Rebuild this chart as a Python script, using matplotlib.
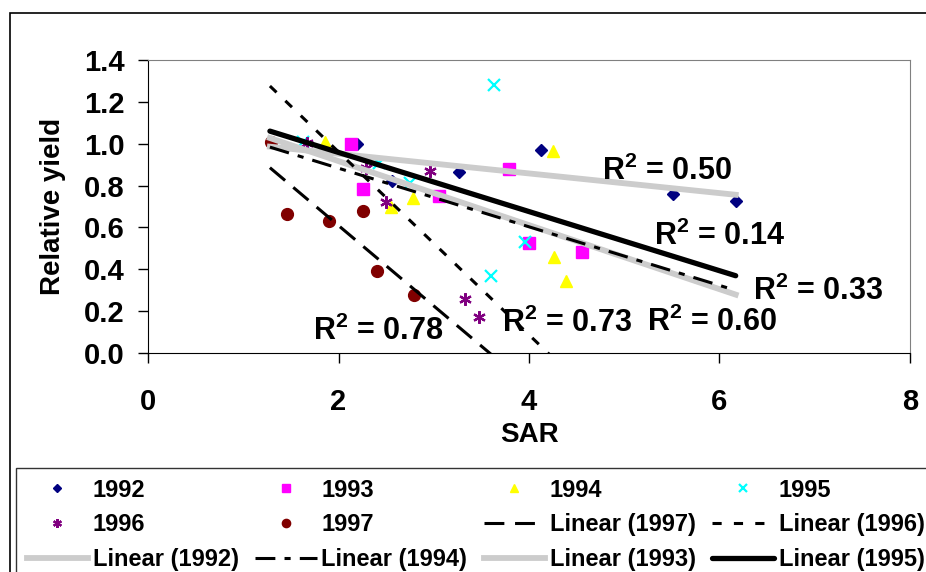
import numpy as np
import matplotlib
matplotlib.use('Agg')
import matplotlib.pyplot as plt
from matplotlib.patches import Rectangle

plt.rcParams['font.family'] = ['Liberation Sans', 'DejaVu Sans']
plt.rcParams['font.weight'] = 'bold'
plt.rcParams['mathtext.fontset'] = 'custom'
plt.rcParams['mathtext.bf'] = 'Liberation Sans:bold'
plt.rcParams['mathtext.rm'] = 'Liberation Sans:bold'

# Observed points (SAR, relative yield) per year
sar_1992 = [2.19, 2.56, 3.27, 4.13, 5.51, 6.17]
yld_1992 = [1.00, 0.82, 0.863, 0.97, 0.76, 0.726]
sar_1993 = [2.13, 2.26, 3.06, 3.79, 4.00, 4.56]
yld_1993 = [1.00, 0.785, 0.752, 0.877, 0.524, 0.481]
sar_1994 = [1.86, 2.55, 2.78, 4.25, 4.26, 4.39]
yld_1994 = [1.01, 0.70, 0.74, 0.965, 0.46, 0.345]
sar_1995 = [1.63, 2.43, 2.75, 3.60, 3.63, 3.96]
yld_1995 = [1.01, 0.91, 0.81, 0.37, 1.28, 0.53]
sar_1996 = [1.665, 2.29, 2.50, 2.96, 3.33, 3.47]
yld_1996 = [1.005, 0.885, 0.72, 0.87, 0.26, 0.17]
sar_1997 = [1.29, 1.455, 1.90, 2.26, 2.40, 2.79]
yld_1997 = [1.01, 0.666, 0.63, 0.68, 0.393, 0.277]

# Linear trendlines: slope, intercept
trend_years = ['1997', '1996', '1992', '1994', '1993', '1995']
trend_slope = [-0.384, -0.437, -0.047, -0.140, -0.153, -0.1413]
trend_icept = [1.377, 1.835, 1.046, 1.163, 1.223, 1.241]
trend_x = [1.28, 6.17]

r2_text = ['0.50', '0.14', '0.33', '0.60', '0.73', '0.78']
r2_x = [5.45, 6.00, 7.03, 5.92, 4.40, 2.42]
r2_y = [0.87, 0.555, 0.296, 0.148, 0.143, 0.105]

fig = plt.figure(figsize=(9.26, 5.72), dpi=100)
ax = fig.add_axes([148/926, 1-353/572, 762/926, 293/572])

# outer chart frame (cut off at right and bottom like the reference)
fig.patches.append(Rectangle((10/926, -0.1), 1.2, 1.1 - 13/572,
                             transform=fig.transFigure, fill=False,
                             edgecolor='black', lw=1.2))

ms = 8
h = {}
h['1992'], = ax.plot(sar_1992, yld_1992, 'D', color='#000080', ms=6.5, ls='none')
h['1993'], = ax.plot(sar_1993, yld_1993, 's', color='#FF00FF', ms=ms, ls='none')
h['1994'], = ax.plot(sar_1994, yld_1994, '^', color='#FFFF00', ms=ms+1, ls='none')
h['1995'], = ax.plot(sar_1995, yld_1995, 'x', color='#00FFFF', ms=ms, mew=1.6, ls='none')
h['1996'], = ax.plot(sar_1996, yld_1996, marker=(6, 2, 0), color='#800080',
                     ms=ms+1, mew=1.6, ls='none')
h['1997'], = ax.plot(sar_1997, yld_1997, 'o', color='#800000', ms=ms+0.5, ls='none')

styles = {
    '1997': dict(color='black', lw=2.2, dashes=(6.5, 3.5)),
    '1996': dict(color='black', lw=2.2, dashes=(3, 4)),
    '1992': dict(color='#cccccc', lw=4.2),
    '1994': dict(color='black', lw=2.2, dashes=(6.5, 3, 2, 3)),
    '1993': dict(color='#cccccc', lw=4.2),
    '1995': dict(color='black', lw=3.8, solid_capstyle='round'),
}
order = ['1992', '1993', '1994', '1996', '1997', '1995']
xs = np.array(trend_x)
lines = {}
for yr, m, b in zip(trend_years, trend_slope, trend_icept):
    lines[yr] = (m, b)
for yr in order:
    m, b = lines[yr]
    h['Linear (%s)' % yr], = ax.plot(xs, m*xs + b, **styles[yr])

for t, x, y in zip(r2_text, r2_x, r2_y):
    ax.text(x, y, r'R$^{\mathbf{2}}$ = ' + t, fontsize=22, fontweight='bold',
            ha='center', va='center', clip_on=False)

ax.set_xlim(0, 8)
ax.set_ylim(0, 1.4)
ax.set_xticks([0, 2, 4, 6, 8])
ax.set_yticks(np.arange(0, 1.41, 0.2))
ax.set_yticklabels(['%.1f' % v for v in np.arange(0, 1.41, 0.2)])
ax.tick_params(axis='both', direction='out', length=7, width=1, labelsize=21)
ax.tick_params(axis='x', pad=18)
ax.tick_params(axis='y', pad=10)
for s in ['top', 'right']:
    ax.spines[s].set_color('#808080')
for s in ['left', 'bottom']:
    ax.spines[s].set_color('black')

ax.set_xlabel('SAR', fontsize=20, fontweight='bold')
ax.set_ylabel('Relative yield', fontsize=20, fontweight='bold')
ax.xaxis.set_label_coords(0.5, -0.235)
ax.yaxis.set_label_coords(-0.107, 0.5)

# legend is filled column by column
leg_keys = ['1992', '1996', 'Linear (1992)',
            '1993', '1997', 'Linear (1994)',
            '1994', 'Linear (1997)', 'Linear (1993)',
            '1995', 'Linear (1996)', 'Linear (1995)']
leg = fig.legend([h[k] for k in leg_keys], leg_keys, ncol=4,
                 loc='upper left', bbox_to_anchor=(16/926, 1-468/572),
                 bbox_transform=fig.transFigure, fontsize=17,
                 frameon=True, fancybox=False, edgecolor='black',
                 borderaxespad=0, borderpad=0.45, labelspacing=0.5,
                 handlelength=2.6, handletextpad=0.2, columnspacing=0.7,
                 markerscale=0.7)
leg.get_frame().set_linewidth(1.0)

fig.savefig('out.png', dpi=100)
